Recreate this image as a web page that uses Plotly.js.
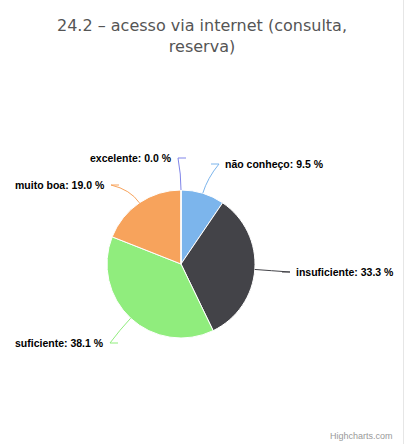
<!DOCTYPE html>
<html><head><meta charset="utf-8">
<script src="https://cdn.plot.ly/plotly-3.0.1.min.js"></script>
<style>html,body{margin:0;padding:0;background:#fff}#chart{width:404px;height:444px}</style>
</head><body><div id="chart"></div>
<script>
const categories = ["não conheço", "insuficiente", "suficiente", "muito boa", "excelente"];
const percents = [9.5, 33.3, 38.1, 19.0, 0.0];
const colors = ["#7cb5ec", "#434348", "#90ed7d", "#f7a35c", "#8085e9"];
const titleText = "24.2 – acesso via internet (consulta,<br>reserva)";

const W = 404, H = 444;
const cx = 181, cy = 264, R = 74;
// label layout (pixels): anchor point at label's connector side, alignment
const labelPos = [
  {x: 223, y: 164, side: "left"},
  {x: 294, y: 272, side: "left"},
  {x: 106, y: 343, side: "right"},
  {x: 107, y: 185, side: "right"},
  {x: 174, y: 158, side: "right"}
];
const px = x => x / W, py = y => 1 - y / H;

const total = percents.reduce((a, b) => a + b, 0);
let cum = 0;
const annotations = [], shapes = [];
percents.forEach((v, i) => {
  const mid = (cum + v / 2) / total * 2 * Math.PI;
  cum += v;
  const ex = cx + R * Math.sin(mid), ey = cy - R * Math.cos(mid);
  const qx = cx + (R + 16) * Math.sin(mid), qy = cy - (R + 16) * Math.cos(mid);
  const L = labelPos[i];
  const lx = L.side === "left" ? L.x - 4 : L.x + 4;
  shapes.push({
    type: "path", xref: "paper", yref: "paper",
    path: `M ${px(ex)} ${py(ey)} Q ${px(qx)} ${py(qy)} ${px(lx)} ${py(L.y)} L ${px(L.side === "left" ? lx - 8 : lx + 8)} ${py(L.y)}`,
    line: {color: colors[i], width: 1}
  });
  annotations.push({
    xref: "paper", yref: "paper", x: px(L.x), y: py(L.y),
    xanchor: L.side === "left" ? "left" : "right", yanchor: "middle",
    text: "<b>" + categories[i] + ": " + v.toFixed(1) + " %</b>",
    showarrow: false, font: {family: "Liberation Sans, Arial, sans-serif", size: 10.5, color: "#000"}
  });
});
annotations.push({
  xref: "paper", yref: "paper", x: px(395), y: py(436), xanchor: "right", yanchor: "middle",
  text: "Highcharts.com", showarrow: false,
  font: {family: "Liberation Sans, Arial, sans-serif", size: 9, color: "#999"}
});
shapes.push({type: "line", xref: "paper", yref: "paper", x0: px(403.5), x1: px(403.5), y0: 0, y1: 1,
  line: {color: "#e6e6e6", width: 1}});

const data = [{
  type: "pie", labels: categories, values: percents, sort: false, direction: "clockwise",
  rotation: 0, textinfo: "none", hoverinfo: "label+percent",
  marker: {colors: colors, line: {color: "#ffffff", width: 1}},
  domain: {x: [px(cx - R), px(cx + R)], y: [py(cy + R), py(cy - R)]},
  showlegend: false
}];
const layout = {
  width: W, height: H, margin: {l: 0, r: 0, t: 0, b: 0},
  paper_bgcolor: "#fff",
  title: {text: titleText, x: 0.5, xanchor: "center", y: 1 - 31 / H, yanchor: "top", yref: "container",
    font: {family: "DejaVu Sans, Verdana, sans-serif", size: 16, color: "#555"}},
  annotations: annotations, shapes: shapes, showlegend: false
};
Plotly.newPlot("chart", data, layout, {displayModeBar: false, staticPlot: true});
</script></body></html>
